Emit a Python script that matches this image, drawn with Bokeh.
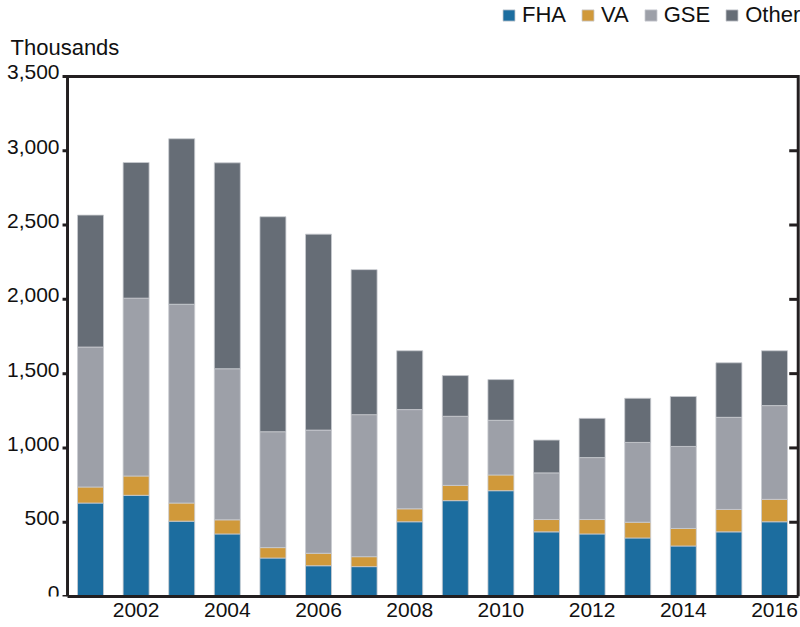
import math
from bokeh.plotting import figure
from bokeh.models import (ColumnDataSource, Range1d, FixedTicker,
                          Legend, LegendItem, Label)
from bokeh.core.properties import value
from bokeh.embed import file_html
from bokeh.resources import INLINE

years = list(range(2001, 2017))
fha = [629, 681, 507, 421, 259, 207, 201, 503, 645, 712, 435, 421, 394, 340, 435, 503]
va = [108, 130, 122, 95, 70, 84, 67, 87, 103, 106, 83, 97, 106, 118, 151, 151]
gse = [942, 1197, 1338, 1017, 780, 829, 956, 668, 465, 368, 314, 417, 537, 552, 620, 631]
other = [888, 913, 1114, 1386, 1447, 1319, 976, 396, 274, 274, 221, 264, 297, 336, 367, 369]
series = ["FHA", "VA", "GSE", "Other"]
colors = ["#1c6d9f", "#d0993a", "#9da0a8", "#666d76"]
y_ticks = [0, 500, 1000, 1500, 2000, 2500, 3000, 3500]
y_tick_labels = ["0", "500", "1,000", "1,500", "2,000", "2,500", "3,000", "3,500"]
x_ticks = [2002, 2004, 2006, 2008, 2010, 2012, 2014, 2016]

FONT = "Liberation Sans"
DARK = "#231f20"
TXT = "#111111"

# plot area: axis box spans [x_left, x_right] x [0, y_top]
x_left, x_right = 2000.496, 2016.52
y_top = y_ticks[-1]

src = ColumnDataSource(dict(year=years, FHA=fha, VA=va, GSE=gse, Other=other))

p = figure(width=800, height=627, output_backend="svg", toolbar_location=None,
           x_range=Range1d(1999.026, 2016.57), y_range=Range1d(0, 4011.5),
           min_border_left=0, min_border_top=0, min_border_right=0, min_border_bottom=31)
p.yaxis.visible = False
p.xgrid.visible = False
p.ygrid.visible = False
p.outline_line_color = None
p.background_fill_color = "white"
p.border_fill_color = "white"

renderers = p.vbar_stack(series, x="year", width=0.57, source=src, color=colors,
                         line_color="#c9ccd1", line_width=0.8)

# box: left axis, top and right border
p.line(x=[x_left, x_left, x_right, x_right], y=[0, y_top, y_top, 0],
       line_color=DARK, line_width=3, line_join="miter")

# left ticks (outward) and right ticks (inward)
n = len(y_ticks)
p.ray(x=[x_left] * n, y=y_ticks, length=5, length_units="screen",
      angle=math.pi, line_color=DARK, line_width=3)
p.ray(x=[x_right] * n, y=y_ticks, length=9, length_units="screen",
      angle=math.pi, line_color=DARK, line_width=3)

# y tick labels
p.text(x=[x_left] * n, y=y_ticks, text=y_tick_labels, x_offset=-8, y_offset=-4,
       text_align="right", text_baseline="middle", text_font=value(FONT),
       text_font_size="21px", text_color=TXT)

xa = p.xaxis[0]
xa.bounds = (x_left, x_right)
xa.ticker = FixedTicker(ticks=x_ticks)
xa.major_tick_out = 0
xa.major_tick_in = 0
xa.minor_tick_out = 0
xa.minor_tick_in = 0
xa.axis_line_width = 3
xa.axis_line_color = DARK
xa.major_label_text_font = FONT
xa.major_label_text_font_size = "21px"
xa.major_label_text_color = TXT
xa.major_label_standoff = 6

items = [LegendItem(label=s, renderers=[r]) for s, r in zip(series, renderers)]
legend = Legend(items=items, orientation="horizontal", location=(501, 568),
                glyph_width=15, glyph_height=14, label_height=14,
                label_standoff=6, spacing=14, padding=0, margin=0,
                border_line_color=None, background_fill_alpha=0,
                label_text_font=FONT, label_text_font_size="22px",
                label_text_color=TXT)
p.add_layout(legend, "center")

p.add_layout(Label(x=10, y=549.5, x_units="screen", y_units="screen", text="Thousands",
                   text_font=FONT, text_font_size="22px", text_color=TXT,
                   text_baseline="middle", text_align="left"))

open("out.html", "w").write(file_html(p, INLINE))
